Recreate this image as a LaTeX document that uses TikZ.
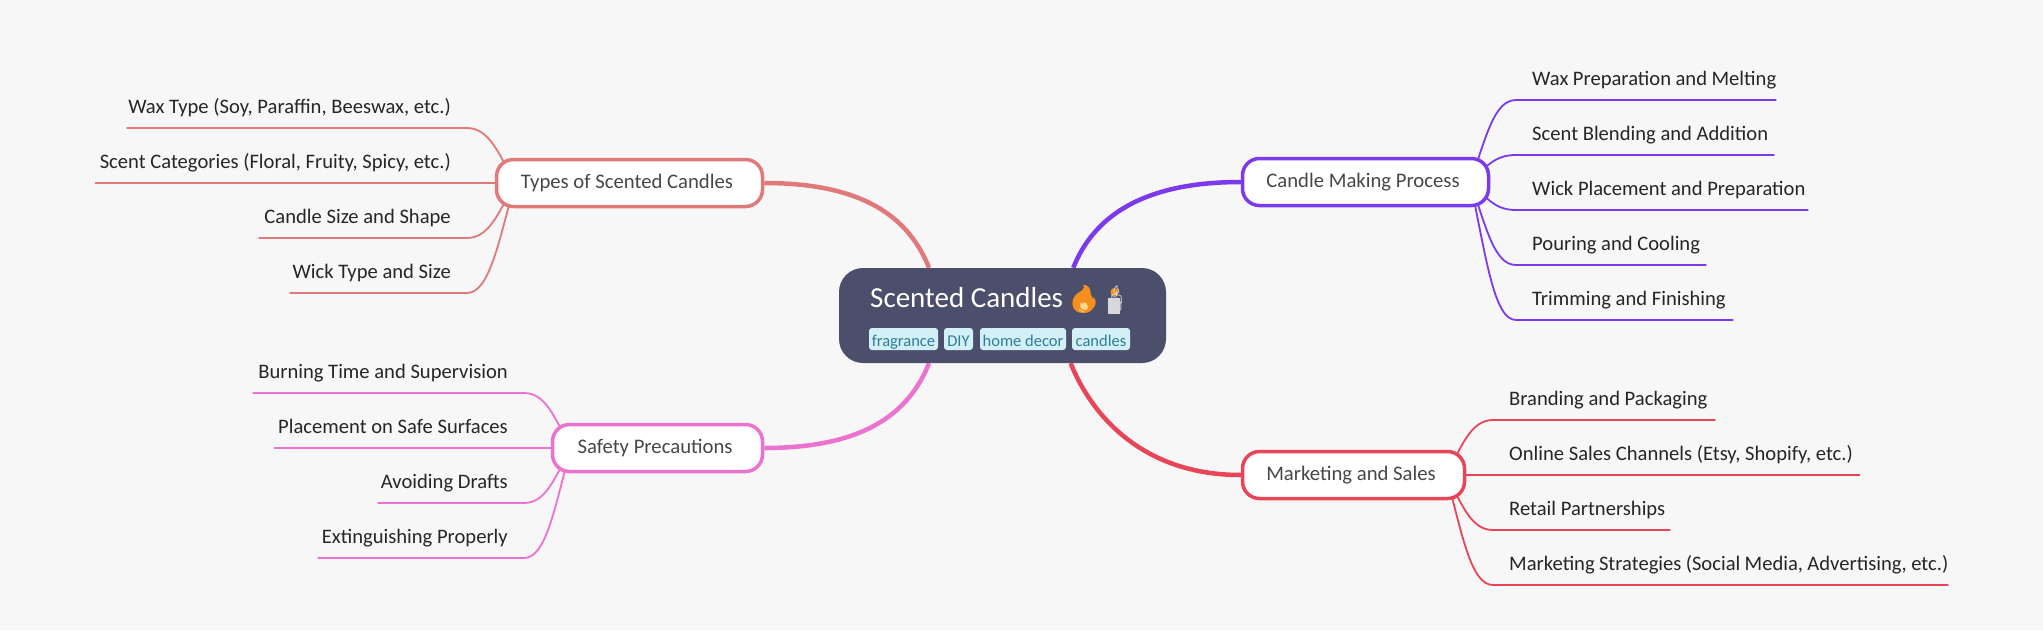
\documentclass[tikz,border=0pt]{standalone}
\usepackage{fontspec}
\setmainfont{Carlito}
\newfontfamily\emojifont{Noto Emoji}
\usetikzlibrary{positioning}
\pgfdeclarelayer{background}
\pgfsetlayers{background,main}
\definecolor{pagegray}{HTML}{F7F7F7}
\definecolor{rootblue}{HTML}{4C4F6B}
\definecolor{tagblue}{HTML}{D3F0F7}
\definecolor{tagtext}{HTML}{2E7D99}
\definecolor{salmon}{HTML}{E07A7A}
\definecolor{violet}{HTML}{7C3AED}
\definecolor{orchid}{HTML}{EC72CF}
\definecolor{crimson}{HTML}{E84558}
\definecolor{flame}{HTML}{F5901E}
\definecolor{flamecore}{HTML}{FFD98A}
\definecolor{waxgray}{HTML}{D8D8DC}
\begin{document}
\begin{tikzpicture}[x=1pt,y=-1pt,
	rootnode/.style={rectangle, rounded corners=24pt, fill=rootblue, minimum width=327pt, minimum height=95pt},
	titlenode/.style={anchor=base west, inner sep=0pt, text=white, font=\fontsize{29}{34}\selectfont},
	tagnode/.style={rectangle, rounded corners=3pt, fill=tagblue, text=tagtext, inner sep=0pt, minimum height=22pt, text height=15pt, text depth=1pt, font=\fontsize{16.5}{20}\selectfont},
	branchnode/.style={rectangle, rounded corners=17pt, draw=#1, line width=3.5pt, fill=white, minimum height=47pt, text=black!72, font=\fontsize{20.7}{25}\selectfont, execute at end node={\hspace*{5pt}}},
	rightleaf/.style={anchor=south west, inner sep=0pt, text height=14pt, text depth=14pt, align=flush left, text=black!85, font=\fontsize{20.6}{25}\selectfont, execute at begin node={\hspace*{16pt}}},
	leftleaf/.style={anchor=south east, inner sep=0pt, text height=14pt, text depth=14pt, align=flush right, text=black!85, font=\fontsize{20.6}{25}\selectfont, execute at end node={\hspace*{16pt}}},
	mainline/.style={draw=#1, line width=4.5pt},
	leafline/.style={draw=#1, line width=1.8pt},
	]
	%Nodes
	\node[rootnode]                       (root)  at (1002.5,315.5) {};
	%Emoji colours
	\fill[flame] (1083,313) .. controls (1072,313) and (1070,302) .. (1075,296) .. controls (1077,292) and (1083,292) .. (1084,287) .. controls (1092,292) and (1096,305) .. (1093,308) .. controls (1091,312) and (1087,313) .. (1083,313) -- cycle;
	\fill[flamecore] (1083,307) circle (5pt);
	\fill[waxgray] (1108,298) rectangle (1120,314);
	\fill[flame] (1114.5,292) circle (4pt);
	\node[titlenode]                      (title) at (870,307)      {Scented Candles\kern6pt{\emojifont\fontsize{26}{26}\selectfont\textcolor{flame}{🔥}}\kern-2pt{\emojifont\fontsize{26}{26}\selectfont\textcolor{waxgray}{🕯}}};
	\node[tagnode, minimum width=69pt]    (tag1)  at (903.5,339)    {fragrance};
	\node[tagnode, minimum width=29pt]    (tag2)  at (958.5,339)    {DIY};
	\node[tagnode, minimum width=86pt]    (tag3)  at (1023,339)     {home decor};
	\node[tagnode, minimum width=58pt]    (tag4)  at (1101,339)     {candles};

	\node[branchnode=salmon, minimum width=266pt]  (types)  at (629.5,183)  {Types of Scented Candles};
	\node[branchnode=violet, minimum width=246pt]  (making) at (1365.5,182) {Candle Making Process};
	\node[branchnode=orchid, minimum width=210pt]  (safety) at (657.5,448)  {Safety Precautions};
	\node[branchnode=crimson, minimum width=222pt] (sales)  at (1353.5,475) {Marketing and Sales};

	\node[leftleaf, text width=340pt] (ty1) at (467,128) {Wax Type (Soy, Paraffin, Beeswax, etc.)};
	\node[leftleaf, text width=372pt] (ty2) at (467,183) {Scent Categories (Floral, Fruity, Spicy, etc.)};
	\node[leftleaf, text width=208pt] (ty3) at (467,238) {Candle Size and Shape};
	\node[leftleaf, text width=177pt] (ty4) at (467,293) {Wick Type and Size};

	\node[rightleaf, text width=260pt] (ma1) at (1516,100) {Wax Preparation and Melting};
	\node[rightleaf, text width=258pt] (ma2) at (1516,155) {Scent Blending and Addition};
	\node[rightleaf, text width=292pt] (ma3) at (1516,210) {Wick Placement and Preparation};
	\node[rightleaf, text width=190pt] (ma4) at (1516,265) {Pouring and Cooling};
	\node[rightleaf, text width=217pt] (ma5) at (1516,320) {Trimming and Finishing};

	\node[leftleaf, text width=271pt] (sa1) at (524,393) {Burning Time and Supervision};
	\node[leftleaf, text width=250pt] (sa2) at (524,448) {Placement on Safe Surfaces};
	\node[leftleaf, text width=146pt] (sa3) at (524,503) {Avoiding Drafts};
	\node[leftleaf, text width=206pt] (sa4) at (524,558) {Extinguishing Properly};

	\node[rightleaf, text width=222pt] (sl1) at (1493,420) {Branding and Packaging};
	\node[rightleaf, text width=367pt] (sl2) at (1493,475) {Online Sales Channels (Etsy, Shopify, etc.)};
	\node[rightleaf, text width=177pt] (sl3) at (1493,530) {Retail Partnerships};
	\node[rightleaf, text width=455pt] (sl4) at (1493,585) {Marketing Strategies (Social Media, Advertising, etc.)};

	\begin{pgfonlayer}{background}
	\fill[pagegray] (0,0) rectangle (2043,630);
	%Lines
	\draw[mainline=salmon] (types.east) .. controls +(100,0) and +(-20,-50) .. (root.147);
	\draw[mainline=violet] (making.west) .. controls +(-100,0) and +(20,-50) .. (root.34);
	\draw[mainline=orchid] (safety.east) .. controls +(100,0) and +(-20,50) .. (root.213);
	\draw[mainline=crimson] (sales.west) .. controls +(-100,0) and +(20,50) .. (root.-35);

	\draw[leafline=salmon] (ty1.south west) -- (ty1.south east) .. controls +(22,0) and +(-16,-30) .. ([xshift=20pt]types.west);
	\draw[leafline=salmon] (ty2.south west) -- (ty2.south east) -- ([xshift=20pt]types.west);
	\draw[leafline=salmon] (ty3.south west) -- (ty3.south east) .. controls +(22,0) and +(-16,30) .. ([xshift=20pt]types.west);
	\draw[leafline=salmon] (ty4.south west) -- (ty4.south east) .. controls +(22,0) and +(-16,60) .. ([xshift=20pt]types.west);

	\draw[leafline=violet] (ma1.south east) -- (ma1.south west) .. controls +(-22,0) and +(16,-45) .. ([xshift=-20pt]making.east);
	\draw[leafline=violet] (ma2.south east) -- (ma2.south west) .. controls +(-22,0) and +(16,-15) .. ([xshift=-20pt]making.east);
	\draw[leafline=violet] (ma3.south east) -- (ma3.south west) .. controls +(-22,0) and +(16,15) .. ([xshift=-20pt]making.east);
	\draw[leafline=violet] (ma4.south east) -- (ma4.south west) .. controls +(-22,0) and +(16,45) .. ([xshift=-20pt]making.east);
	\draw[leafline=violet] (ma5.south east) -- (ma5.south west) .. controls +(-22,0) and +(16,76) .. ([xshift=-20pt]making.east);

	\draw[leafline=orchid] (sa1.south west) -- (sa1.south east) .. controls +(22,0) and +(-16,-30) .. ([xshift=20pt]safety.west);
	\draw[leafline=orchid] (sa2.south west) -- (sa2.south east) -- ([xshift=20pt]safety.west);
	\draw[leafline=orchid] (sa3.south west) -- (sa3.south east) .. controls +(22,0) and +(-16,30) .. ([xshift=20pt]safety.west);
	\draw[leafline=orchid] (sa4.south west) -- (sa4.south east) .. controls +(22,0) and +(-16,60) .. ([xshift=20pt]safety.west);

	\draw[leafline=crimson] (sl1.south east) -- (sl1.south west) .. controls +(-22,0) and +(16,-30) .. ([xshift=-20pt]sales.east);
	\draw[leafline=crimson] (sl2.south east) -- (sl2.south west) -- ([xshift=-20pt]sales.east);
	\draw[leafline=crimson] (sl3.south east) -- (sl3.south west) .. controls +(-22,0) and +(16,30) .. ([xshift=-20pt]sales.east);
	\draw[leafline=crimson] (sl4.south east) -- (sl4.south west) .. controls +(-22,0) and +(16,60) .. ([xshift=-20pt]sales.east);
	\end{pgfonlayer}
\end{tikzpicture}
\end{document}
